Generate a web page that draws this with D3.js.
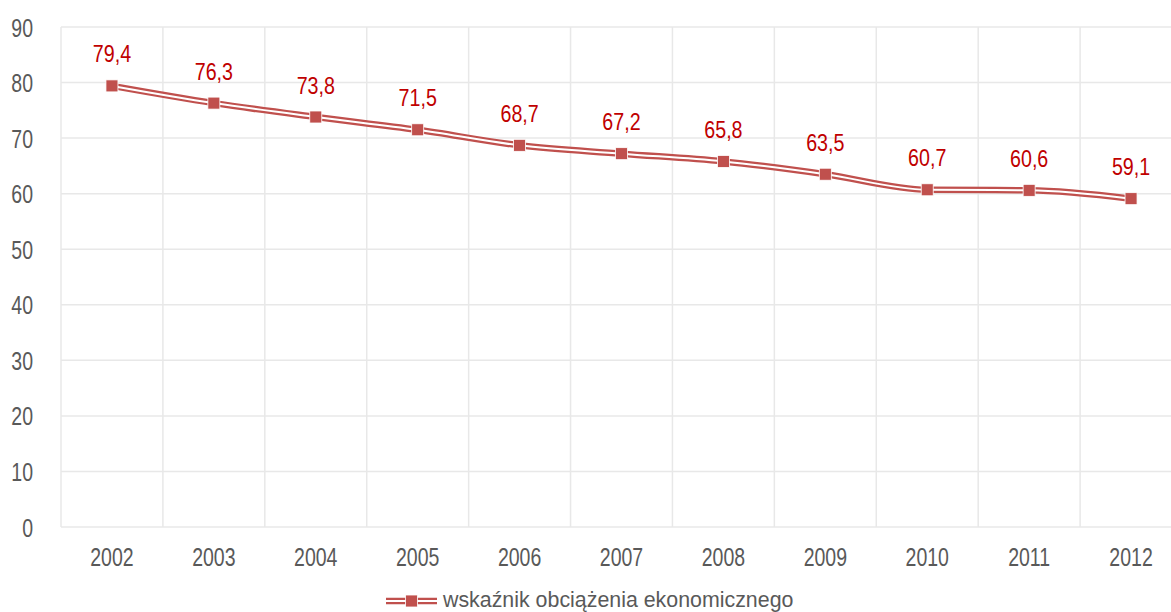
<!DOCTYPE html>
<html><head><meta charset="utf-8">
<script src="https://cdn.jsdelivr.net/npm/d3@7"></script>
<style>
html,body{margin:0;padding:0;background:#fff;overflow:hidden}
text{font-family:"Liberation Sans",Arial,sans-serif}
</style></head>
<body>
<svg id="c" width="1171" height="612"></svg>
<script>
const categories = ["2002","2003","2004","2005","2006","2007","2008","2009","2010","2011","2012"];
const values = [79.4,76.3,73.8,71.5,68.7,67.2,65.8,63.5,60.7,60.6,59.1];
const valueLabels = ["79,4","76,3","73,8","71,5","68,7","67,2","65,8","63,5","60,7","60,6","59,1"];
const yTicks = [0,10,20,30,40,50,60,70,80,90];
const seriesName = "wskaźnik obciążenia ekonomicznego";

(function(){
const svg = d3.select("#c");
const pL = 61, pR = 1182, pT = 27, pB = 527;
const x = d3.scaleBand().domain(categories).range([pL, pR]).padding(0);
const y = d3.scaleLinear().domain([0,90]).range([pB, pT]);
const grid = "#E8E8E8", axisTxt = "#595959", red = "#C0504D", lblRed = "#C00000";
const cx = (i) => x(categories[i]) + x.bandwidth()/2;

svg.append("g").selectAll("line").data(yTicks).join("line")
  .attr("x1", pL).attr("x2", 1171)
  .attr("y1", d => y(d)).attr("y2", d => y(d))
  .attr("stroke", grid).attr("stroke-width", 1.5);
svg.append("g").selectAll("line").data(categories).join("line")
  .attr("x1", d => x(d)).attr("x2", d => x(d))
  .attr("y1", pT).attr("y2", pB)
  .attr("stroke", grid).attr("stroke-width", 1.5);

const yAxis = d3.axisLeft(y).tickValues(yTicks).tickSize(0).tickPadding(0).tickFormat(d3.format("d"));
const ga = svg.append("g").attr("transform", `translate(33,0)`).call(yAxis);
ga.select(".domain").remove();
ga.selectAll("text").attr("fill", axisTxt).style("font-size","25px")
  .attr("text-anchor","end").attr("x", 0).attr("dy","0.36em")
  .attr("transform","scale(0.78,1)");

const xAxis = d3.axisBottom(x).tickSize(0).tickPadding(0);
const gx = svg.append("g").attr("transform", `translate(0,${pB+21})`).call(xAxis);
gx.select(".domain").remove();
gx.selectAll("text").attr("fill", axisTxt).style("font-size","25px").attr("dy","0.71em")
  .attr("transform","scale(0.78,1)");

const line = d3.line()
  .x((d,i) => cx(i))
  .y(d => y(d))
  .curve(d3.curveMonotoneX);
svg.append("path").attr("d", line(values)).attr("fill","none")
  .attr("stroke", red).attr("stroke-width", 6.5);
svg.append("path").attr("d", line(values)).attr("fill","none")
  .attr("stroke", "#fff").attr("stroke-width", 2);

const ms = 12;
svg.append("g").selectAll("rect").data(values).join("rect")
  .attr("x", (d,i) => cx(i) - ms/2)
  .attr("y", d => y(d) - ms/2)
  .attr("width", ms).attr("height", ms)
  .attr("fill", red).attr("stroke", "#fff").attr("stroke-width", 0.8);

svg.append("g").selectAll("text").data(values).join("text")
  .attr("transform", (d,i) => `translate(${cx(i)},${y(d) - 23.5}) scale(0.82,1)`)
  .attr("text-anchor","middle").attr("fill", lblRed)
  .style("font-size","24px")
  .text((d,i) => valueLabels[i]);

const lg = svg.append("g").attr("transform","translate(386,601)");
lg.append("line").attr("x1",0).attr("x2",51).attr("y1",0).attr("y2",0)
  .attr("stroke", red).attr("stroke-width", 6.5);
lg.append("line").attr("x1",0).attr("x2",51).attr("y1",0).attr("y2",0)
  .attr("stroke", "#fff").attr("stroke-width", 2);
lg.append("rect").attr("x", 25.5-ms/2).attr("y", -ms/2).attr("width", ms).attr("height", ms)
  .attr("fill", red).attr("stroke","#fff").attr("stroke-width",0.8);
lg.append("text").attr("transform","translate(57,6) scale(0.93,1)")
  .attr("fill", axisTxt).style("font-size","23px").text(seriesName);
})();
</script>
</body></html>
